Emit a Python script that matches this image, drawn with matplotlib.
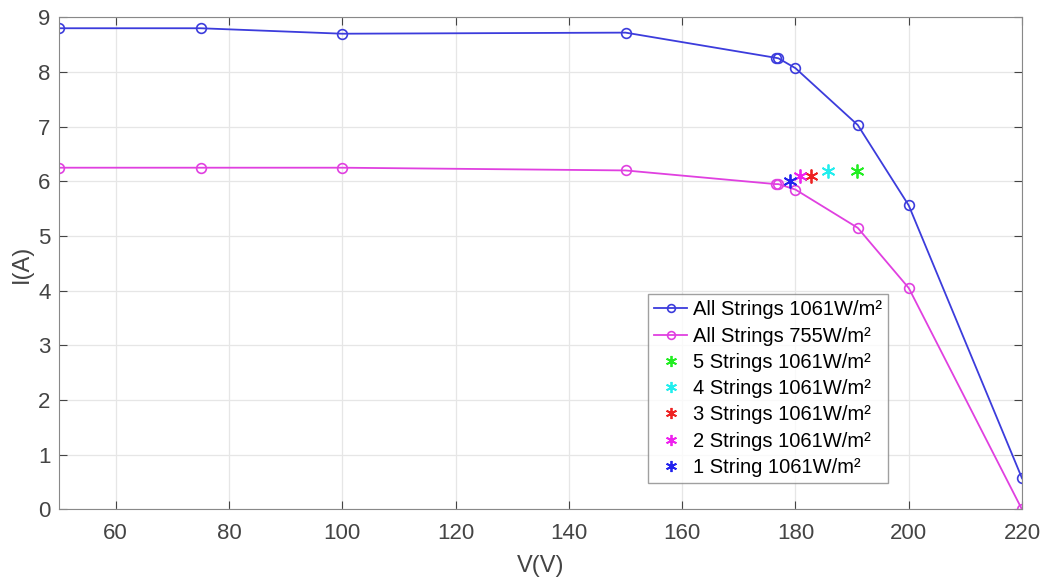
import matplotlib
matplotlib.use('Agg')
import matplotlib.pyplot as plt

plt.rcParams['font.family'] = ['Liberation Sans', 'DejaVu Sans']

# I-V curves
v_all = [50, 75, 100, 150, 176.5, 177, 180, 191, 200, 220]
i_1061 = [8.8, 8.8, 8.7, 8.72, 8.26, 8.25, 8.07, 7.03, 5.56, 0.57]
i_755 = [6.25, 6.25, 6.25, 6.2, 5.95, 5.95, 5.85, 5.15, 4.05, 0.0]

# single operating points per string count
string_labels = ['5 Strings 1061W/m²', '4 Strings 1061W/m²', '3 Strings 1061W/m²',
                 '2 Strings 1061W/m²', '1 String 1061W/m²']
string_v = [190.9, 185.7, 182.7, 180.8, 179.0]
string_i = [6.19, 6.19, 6.09, 6.09, 6.0]
string_colors = ['#22ee22', '#22eeee', '#ee2222', '#ee22ee', '#2222ee']

fig = plt.figure(figsize=(10.43, 5.77), dpi=100)
ax = fig.add_axes([0.0566, 0.117, 0.9233, 0.853])

ax.plot(v_all, i_1061, '-o', color='#3c3cdc', mfc='none', ms=7, lw=1.3,
        mew=1.2, label='All Strings 1061W/m²')
ax.plot(v_all, i_755, '-o', color='#e040e0', mfc='none', ms=7, lw=1.3,
        mew=1.2, label='All Strings 755W/m²')
for v, i, c, lab in zip(string_v, string_i, string_colors, string_labels):
    ax.plot([v], [i], linestyle='none', marker=(6, 2, 0), color=c, ms=10,
            mew=1.3, label=lab)

ax.set_xlim(50, 220)
ax.set_ylim(0, 9)
ax.set_xticks(range(60, 221, 20))
ax.set_yticks(range(0, 10))
ax.grid(True, color='#e6e6e6', lw=0.9)
ax.set_axisbelow(True)
for s in ax.spines.values():
    s.set_color('#888888')
ax.tick_params(labelsize=16, colors='#444444', direction='in', length=6,
               top=True, right=True)
ax.tick_params(axis='x', pad=10)
ax.tick_params(axis='y', pad=6)
ax.set_xlabel('V(V)', fontsize=17, color='#444444', labelpad=8)
ax.set_ylabel('I(A)', fontsize=17, color='#444444', labelpad=4)

leg = ax.legend(loc='lower left', bbox_to_anchor=(0.612, 0.054), fontsize=14.5,
                frameon=True, fancybox=False, edgecolor='#888888',
                handlelength=1.6, borderpad=0.3, labelspacing=0.36,
                handletextpad=0.3, borderaxespad=0, markerscale=0.8)
leg.get_frame().set_linewidth(1.0)

fig.savefig('out.png', dpi=100)
